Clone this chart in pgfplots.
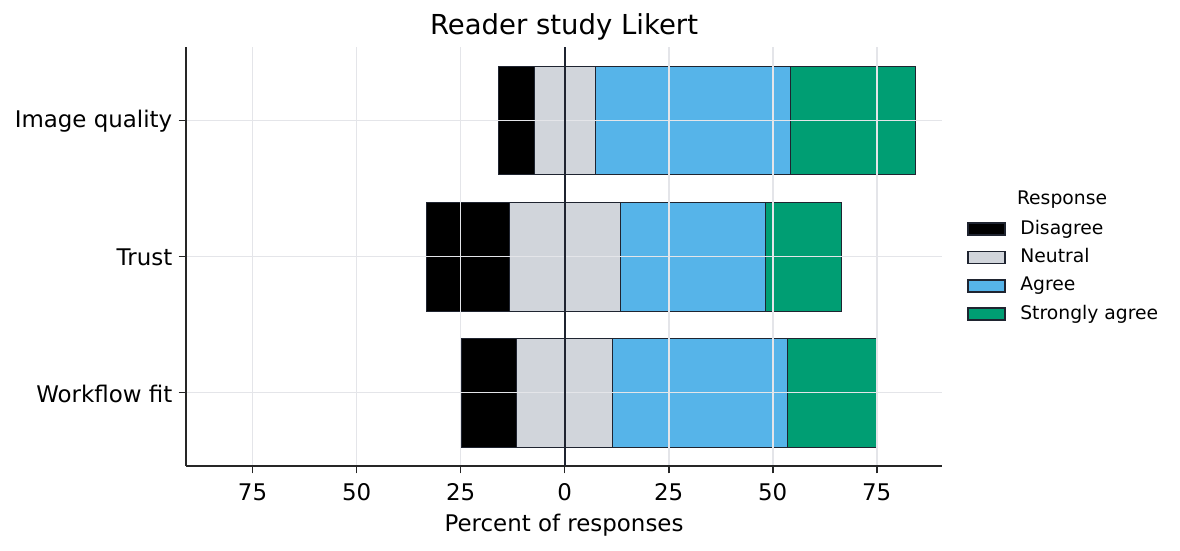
\documentclass[border=0pt]{standalone}
\usepackage{fontspec}
\setmainfont{DejaVu Sans}
\usepackage{pgfplots}
\pgfplotsset{compat=1.18}
\usepackage{pgfplotstable}
\definecolor{cD}{HTML}{000000}
\definecolor{cN}{HTML}{D1D5DB}
\definecolor{cA}{HTML}{56B4E9}
\definecolor{cS}{HTML}{009E73}
\definecolor{edgec}{HTML}{1F2430}
\definecolor{gridc}{HTML}{E4E5E9}
\definecolor{axc}{HTML}{262626}

\pgfplotstableread{
y offset D N A S
0 -15.9 8.6 14.8 46.7 30.0
1 -33.3 20.0 26.6 35.0 18.3
2 -24.9 13.3 23.2 41.9 21.4
}\likert

\begin{document}
\begin{tikzpicture}
\useasboundingbox (-89.28pt,-40.8pt) rectangle (477.12pt,223.68pt);
\begin{axis}[
  at={(0,0)}, anchor=south west,
  scale only axis,
  width=362.9pt, height=201.1pt,
  xbar stacked,
  stack negative=on previous,
  bar width=0.8,
  xmin=-91, xmax=90.7,
  ymin=-0.54, ymax=2.54,
  y dir=reverse,
  axis lines*=left,
  axis line style={color=axc, line width=0.8pt},
  axis on top=true,
  xtick={-75,-50,-25,0,25,50,75},
  xticklabels={75,50,25,0,25,50,75},
  ytick={0,1,2},
  yticklabels={Image quality,Trust,Workflow fit},
  tick align=outside,
  major tick length=3.5pt,
  tick style={color=axc, line width=0.8pt},
  xmajorgrids, ymajorgrids,
  grid style={color=gridc, line width=0.8pt},
  /pgf/number format/assume math mode=true,
  tick label style={font=\fontsize{11}{13}\selectfont},
  xticklabel style={anchor=base, yshift=-12.9pt, inner sep=0pt},
  yticklabel style={anchor=east, xshift=-2.9pt, yshift=-0.5pt, inner sep=0pt},
  xlabel={Percent of responses},
  xlabel style={at={(axis description cs:0.5,0)}, anchor=base, yshift=-31.3pt, font=\fontsize{11}{13}\selectfont, inner sep=0pt},
  title={Reader study Likert},
  title style={at={(axis description cs:0.5,1)}, anchor=base, yshift=0pt, font=\fontsize{13.2}{15}\selectfont, inner sep=0pt},
  legend cell align=left,
  legend style={draw=none, fill=none, at={(1.033,0.464)}, anchor=west, inner sep=0pt,
    font=\fontsize{9}{11}\selectfont, row sep=4.9pt,
    nodes={inner sep=0pt, text height=6.8pt, text depth=1.9pt, anchor=west},
    /tikz/every odd column/.append style={column sep=6.8pt}},
  legend image code/.code={\draw[#1, line width=0.8pt] (0pt,-2.9pt) rectangle (17.8pt,2.9pt);},
  every axis plot/.append style={draw=edgec, line width=0.4pt},
  after end axis/.code={
    \draw[color=edgec, line width=0.9pt] (axis cs:0,-0.54) -- (axis cs:0,2.54);
    \node[font=\fontsize{9}{11}\selectfont, inner sep=0pt] at (rel axis cs:1.1587,0.635) {Response};
  },
]
\addplot[draw=none, fill=none, forget plot] table[x=offset, y=y] {\likert};
\addplot[fill=cD, draw=edgec] table[x=D, y=y] {\likert};
\addlegendentry{Disagree}
\addplot[fill=cN, draw=edgec] table[x=N, y=y] {\likert};
\addlegendentry{Neutral}
\addplot[fill=cA, draw=edgec] table[x=A, y=y] {\likert};
\addlegendentry{Agree}
\addplot[fill=cS, draw=edgec] table[x=S, y=y] {\likert};
\addlegendentry{Strongly agree}
\end{axis}
\end{tikzpicture}
\end{document}
